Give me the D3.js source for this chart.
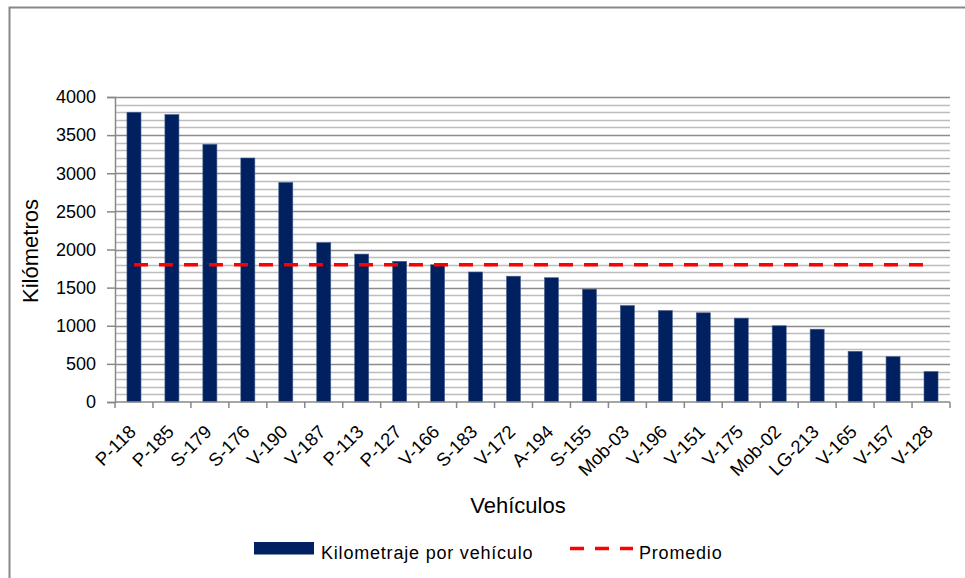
<!DOCTYPE html>
<html>
<head>
<meta charset="utf-8">
<script src="https://cdn.jsdelivr.net/npm/d3@7"></script>
<style>
    body { margin: 0; background: #fff; }
    svg text { font-family: "Liberation Sans", Arial, sans-serif; fill: #000; }
</style>
</head>
<body>
<div id="chart"></div>
<script>

// ######### DATA ###########
var vehiculos = ["P-118", "P-185", "S-179", "S-176", "V-190", "V-187", "P-113", "P-127", "V-166", "S-183", "V-172",
    "A-194", "S-155", "Mob-03", "V-196", "V-151", "V-175", "Mob-02", "LG-213", "V-165", "V-157", "V-128"];
var kilometraje = [3800, 3770, 3380, 3200, 2880, 2090, 1940, 1845, 1800, 1705, 1650,
    1630, 1480, 1265, 1200, 1170, 1100, 1000, 955, 665, 595, 400];
var promedio = 1800;
var yTicks = [0, 500, 1000, 1500, 2000, 2500, 3000, 3500, 4000];
var legendLabels = ["Kilometraje por vehículo", "Promedio"];

// ######### PARAMETERS ###########
var width = 965, height = 578;
var plot = {left: 115, right: 950, top: 97, bottom: 402};
var barColor = "#002060", lineColor = "#ff0000", axisColor = "#888888";

var svg = d3.select("#chart").append("svg")
    .attr("width", width)
    .attr("height", height);

// outer chart border (right / bottom run off the page)
svg.append("rect")
    .attr("x", 9.5).attr("y", 7.5)
    .attr("width", 980).attr("height", 600)
    .attr("fill", "#fff")
    .attr("stroke", axisColor)
    .attr("stroke-width", 2);

var x = d3.scaleBand()
    .domain(vehiculos)
    .range([plot.left, plot.right])
    .padding(0);

var y = d3.scaleLinear()
    .domain([0, 4000])
    .range([plot.bottom, plot.top]);

// minor gridlines every 100, major every 500
var minor = d3.range(0, 4001, 100).filter(function(d) { return d % 500 !== 0; });
svg.append("g").selectAll("line")
    .data(minor)
    .enter().append("line")
    .attr("x1", plot.left).attr("x2", plot.right)
    .attr("y1", function(d) { return Math.round(y(d)) + 0.5; })
    .attr("y2", function(d) { return Math.round(y(d)) + 0.5; })
    .attr("stroke", "#bdbdbd")
    .attr("stroke-width", 1.3);

svg.append("g").selectAll("line")
    .data(yTicks.slice(1))
    .enter().append("line")
    .attr("x1", plot.left).attr("x2", plot.right)
    .attr("y1", function(d) { return Math.round(y(d)) + 0.5; })
    .attr("y2", function(d) { return Math.round(y(d)) + 0.5; })
    .attr("stroke", "#8c8c8c")
    .attr("stroke-width", 1.5);

// bars
var barW = x.bandwidth() * 0.37;
svg.append("g").selectAll("rect")
    .data(kilometraje)
    .enter().append("rect")
    .attr("x", function(d, i) { return x(vehiculos[i]) + (x.bandwidth() - barW) / 2; })
    .attr("y", function(d) { return y(d); })
    .attr("width", barW)
    .attr("height", function(d) { return y(0) - y(d); })
    .attr("fill", barColor)
    .attr("stroke", "#4a6390")
    .attr("stroke-width", 0.6);

// average line, first bar centre to last bar centre
var line = d3.line()
    .x(function(d) { return x(d) + x.bandwidth() / 2; })
    .y(function() { return y(promedio); });
svg.append("path")
    .datum([vehiculos[0], vehiculos[vehiculos.length - 1]])
    .attr("d", line)
    .attr("fill", "none")
    .attr("stroke", lineColor)
    .attr("stroke-width", 3.5)
    .attr("stroke-dasharray", "14,11");

// y axis
var yAxis = d3.axisLeft(y).tickValues(yTicks).tickFormat(d3.format("d")).tickSize(8).tickPadding(11);
var gy = svg.append("g")
    .attr("transform", "translate(" + plot.left + ",0)")
    .call(yAxis);
gy.select(".domain").attr("stroke", axisColor).attr("stroke-width", 1.5);
gy.selectAll(".tick line").attr("stroke", axisColor).attr("stroke-width", 1.5);
gy.selectAll(".tick text").style("font-size", "18px").attr("fill", "#000");

// x axis: ticks on band edges, labels at 45 degrees
var gx = svg.append("g")
    .attr("transform", "translate(0," + plot.bottom + ")");
gx.append("line")
    .attr("x1", plot.left).attr("x2", plot.right)
    .attr("stroke", axisColor).attr("stroke-width", 1.5);
gx.selectAll(".xtick")
    .data(vehiculos.concat([null]))
    .enter().append("line")
    .attr("class", "xtick")
    .attr("x1", function(d, i) { return plot.left + i * x.step(); })
    .attr("x2", function(d, i) { return plot.left + i * x.step(); })
    .attr("y1", 0).attr("y2", 6)
    .attr("stroke", axisColor).attr("stroke-width", 1.5);
gx.selectAll(".xlabel")
    .data(vehiculos)
    .enter().append("text")
    .attr("class", "xlabel")
    .attr("text-anchor", "end")
    .style("font-size", "18.5px")
    .attr("transform", function(d) {
        return "translate(" + (x(d) + x.bandwidth() / 2 + 3) + ",31) rotate(-45)";
    })
    .text(function(d) { return d; });

// axis titles
svg.append("text")
    .attr("transform", "translate(38,251) rotate(-90)")
    .attr("text-anchor", "middle")
    .style("font-size", "22px")
    .text("Kilómetros");

svg.append("text")
    .attr("x", 518).attr("y", 513)
    .attr("text-anchor", "middle")
    .style("font-size", "22px")
    .text("Vehículos");

// legend
var legend = svg.append("g");
legend.append("rect")
    .attr("x", 254).attr("y", 542)
    .attr("width", 60).attr("height", 12.5)
    .attr("fill", barColor);
legend.append("text")
    .attr("x", 321).attr("y", 559)
    .style("font-size", "18px")
    .style("letter-spacing", "0.8px")
    .text(legendLabels[0]);
legend.append("line")
    .attr("x1", 570).attr("x2", 633)
    .attr("y1", 548.5).attr("y2", 548.5)
    .attr("stroke", lineColor)
    .attr("stroke-width", 3.5)
    .attr("stroke-dasharray", "14,11");
legend.append("text")
    .attr("x", 639).attr("y", 559)
    .style("font-size", "18px")
    .style("letter-spacing", "0.8px")
    .text(legendLabels[1]);

</script>
</body>
</html>
